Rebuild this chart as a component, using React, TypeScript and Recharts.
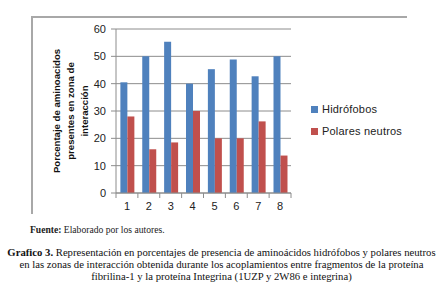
import React from 'react';
import { BarChart, Bar, XAxis, YAxis, CartesianGrid } from 'recharts';

const categories = ['1', '2', '3', '4', '5', '6', '7', '8'];
const hidrofobos = [40.5, 50, 55.3, 40, 45.3, 48.8, 42.7, 50];
const polares = [28, 16, 18.5, 30, 20, 20, 26.2, 13.7];
const yTicks = [0, 10, 20, 30, 40, 50, 60];
const yLabelLines = ['Porcentaje de aminoacidos', 'presentes en zona de', 'interacción'];
const seriesNames = ['Hidrófobos', 'Polares neutros'];

const data = categories.map((c, i) => ({
  name: c,
  hidrofobos: hidrofobos[i],
  polares: polares[i],
}));

const BLUE = '#4F81BD';
const RED = '#C0504D';
const AXIS = '#8c8c8c';
const FONT = '"Liberation Sans", Arial, sans-serif';
const SERIF = '"Liberation Serif", "Times New Roman", serif';

const BAND = 175 / categories.length;

const XTick = (props: any) => {
  const { x, y, payload, index } = props;
  const half = BAND / 2;
  return (
    <g>
      <line x1={x - half} x2={x - half} y1={y} y2={y + 5} stroke={AXIS} />
      {index === categories.length - 1 && (
        <line x1={x + half} x2={x + half} y1={y} y2={y + 5} stroke={AXIS} />
      )}
      <text x={x} y={y + 17} textAnchor='middle' fontSize={11} fill='#222' fontFamily={FONT}>
        {payload.value}
      </text>
    </g>
  );
};

const YLabel = () => (
  <g transform='translate(70,111) rotate(-90)'>
    {yLabelLines.map((line, i) => (
      <text
        key={line}
        x={0}
        y={(i - 1) * 14 + 4}
        textAnchor='middle'
        fontSize={9.6}
        fontWeight='bold'
        fill='#111'
        fontFamily={FONT}
      >
        {line}
      </text>
    ))}
  </g>
);

const App = () => {
  return (
    <div style={{ position: 'absolute', left: 0, top: 0, width: 443, height: 302, background: '#fff' }}>
      {/* chart frame, top and left edges */}
      <div
        style={{
          position: 'absolute',
          left: 31,
          top: 16,
          width: 376,
          height: 2,
          background: '#a8a8a8',
        }}
      />
      <div
        style={{
          position: 'absolute',
          left: 31,
          top: 16,
          width: 2,
          height: 198,
          background: '#a8a8a8',
        }}
      />
      <div style={{ position: 'absolute', left: 0, top: 0 }}>
        <BarChart
          width={443}
          height={215}
          data={data}
          margin={{ top: 29, right: 152, left: 86, bottom: 2 }}
          barCategoryGap='20%'
          barGap={0}
        >
          <CartesianGrid vertical={false} stroke={AXIS} />
          <XAxis
            dataKey='name'
            height={20}
            stroke={AXIS}
            tickLine={false}
            tickSize={0}
            tickMargin={0}
            tick={<XTick />}
            interval={0}
          />
          <YAxis
            width={30}
            domain={[0, 60]}
            ticks={yTicks}
            stroke={AXIS}
            tickSize={5}
            tickMargin={5}
            tick={{ fill: '#222', fontSize: 11, fontFamily: FONT }}
            label={<YLabel />}
          />
          <Bar dataKey='hidrofobos' name={seriesNames[0]} fill={BLUE} isAnimationActive={false} />
          <Bar dataKey='polares' name={seriesNames[1]} fill={RED} isAnimationActive={false} />
        </BarChart>
      </div>
      {/* legend kept outside the chart so it doesn't eat plot space */}
      <div
        style={{
          position: 'absolute',
          left: 311,
          top: 98,
          fontFamily: FONT,
          fontSize: 11,
          color: '#222',
          letterSpacing: 0.2,
        }}
      >
        {seriesNames.map((label, i) => (
          <div key={label} style={{ display: 'flex', alignItems: 'center', height: 22 }}>
            <span
              style={{
                width: 7,
                height: 7,
                background: i === 0 ? BLUE : RED,
                marginRight: 4,
                display: 'inline-block',
              }}
            />
            {label}
          </div>
        ))}
      </div>
      <div
        style={{
          position: 'absolute',
          left: 30,
          top: 224,
          fontFamily: SERIF,
          fontSize: 9.6,
          color: '#222',
          whiteSpace: 'nowrap',
        }}
      >
        <b>Fuente:</b> Elaborado por los autores.
      </div>
      <div
        style={{
          position: 'absolute',
          left: 0,
          top: 246,
          width: 443,
          textAlign: 'center',
          fontFamily: SERIF,
          fontSize: 10.7,
          lineHeight: '12px',
          color: '#111',
        }}
      >
        <div style={{ whiteSpace: 'nowrap' }}>
          <b>Grafico 3.</b> Representación en porcentajes de presencia de aminoácidos hidrófobos y polares neutros
        </div>
        <div style={{ whiteSpace: 'nowrap' }}>
          en las zonas de interacción obtenida durante los acoplamientos entre fragmentos de la proteína
        </div>
        <div style={{ whiteSpace: 'nowrap' }}>fibrilina-1 y la proteína Integrina (1UZP y 2W86 e integrina)</div>
      </div>
    </div>
  );
};

export default App;
